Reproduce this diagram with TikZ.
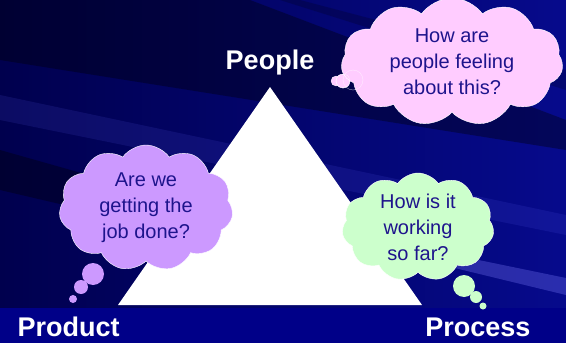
\documentclass[tikz,border=0pt]{standalone}
\usepackage{fontspec}
\setmainfont{Liberation Sans}
\usepackage{tikz}
\usetikzlibrary{shapes.symbols,positioning}
\definecolor{bgdark}{RGB}{0,0,78}
\definecolor{bgnavy}{RGB}{6,10,140}
\definecolor{bgband}{RGB}{0,0,136}
\definecolor{inkblue}{RGB}{30,20,140}
\definecolor{thinkpink}{RGB}{255,204,255}
\definecolor{thinklilac}{RGB}{204,153,255}
\definecolor{thinkmint}{RGB}{204,255,204}

\tikzset{
  thought/.style={cloud, cloud puffs=11, cloud puff arc=110, cloud ignores aspect,
    draw=white, line width=0.4pt, text=inkblue, align=center, inner sep=0pt,
    font=\fontsize{20}{26}\selectfont},
  puff/.style={circle, inner sep=0pt, draw=white, line width=0.3pt},
  corner/.style={text=white, font=\fontsize{27}{30}\selectfont\bfseries},
  streak/.style={fill=#1, opacity=0.35}
}

\begin{document}
\begin{tikzpicture}[x=1pt,y=-1pt]
  % backdrop with diagonal streaks
  \fill[left color=bgdark, right color=bgnavy] (0,0) rectangle (566,343);
  \fill[streak=black] (0,0) -- (250,0) -- (566,120) -- (566,150) -- (0,60) -- cycle;
  \fill[streak=black] (0,150) -- (300,235) -- (300,260) -- (0,190) -- cycle;
  \fill[streak=blue!60!white, opacity=0.12] (0,95) -- (566,215) -- (566,235) -- (0,120) -- cycle;
  \fill[streak=blue!50!white, opacity=0.3] (430,250) -- (566,278) -- (566,295) -- (430,262) -- cycle;
  \fill[streak=black, opacity=0.2] (300,0) -- (566,70) -- (566,90) -- (280,0) -- cycle;
  \fill[bgband] (0,308) rectangle (566,343);
  \useasboundingbox (0,0) rectangle (566,343);

  % the triangle
  \coordinate (apex) at (270,87);
  \coordinate (left) at (118,305);
  \coordinate (right) at (422,305);
  \fill[white] (apex) -- (left) -- (right) -- cycle;

  \node[corner] (people) at (270,63) {People};
  \node[corner, anchor=base west] (product) at (14,336) {Product};
  \node[corner, anchor=base east] (process) at (534,336) {Process};

  % thought bubbles
  \node[puff, fill=thinkpink, minimum size=10pt] (p3) at (336,81) {};
  \node[puff, fill=thinkpink, minimum size=14pt] (p2) at (343,81) {};
  \node[thought, fill=thinkpink, minimum width=222pt, minimum height=128pt]
    (feel) at (452,62) {How are\\people feeling\\about this?};
  \node[puff, minimum size=20pt, opacity=0.7] (p1) at (353,80) {};
  \node[puff, minimum size=14pt, opacity=0.7] at (p2) {};

  \node[thought, fill=thinklilac, minimum width=174pt, minimum height=126pt]
    (done) at (146,208) {Are we\\getting the\\job done?};
  \node[puff, fill=thinklilac, draw=none, minimum size=22pt] (l1) at (93,274) {};
  \node[puff, fill=thinklilac, draw=none, minimum size=14pt] (l2) at (81,287) {};
  \node[puff, fill=thinklilac, draw=none, minimum size=8pt] (l3) at (73,299) {};

  \node[thought, fill=thinkmint, minimum width=152pt, minimum height=108pt]
    (work) at (418,227) {How is it\\working\\so far?};
  \node[puff, fill=thinkmint, draw=none, minimum size=22pt] (m1) at (464,286) {};
  \node[puff, fill=thinkmint, draw=none, minimum size=12pt] (m2) at (476,297) {};
  \node[puff, fill=thinkmint, draw=none, minimum size=7pt] (m3) at (483,306) {};
\end{tikzpicture}
\end{document}
